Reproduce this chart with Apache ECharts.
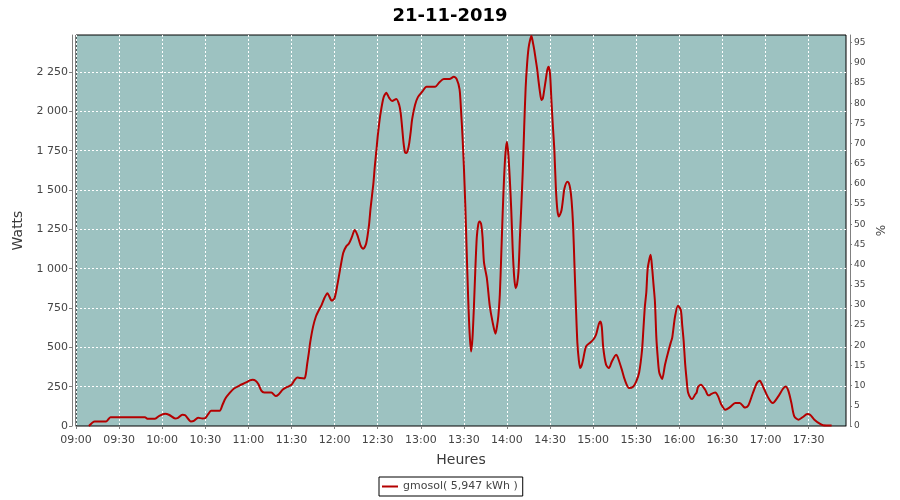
<!DOCTYPE html>
<html>
<head>
<meta charset="utf-8">
<script src="https://cdn.jsdelivr.net/npm/echarts@6/dist/echarts.min.js"></script>
<style>html,body{margin:0;padding:0;background:#fff}#c{width:900px;height:500px}</style>
</head>
<body>
<div id="c"></div>
<script>
const times = ["09:09","09:13","09:21","09:24","09:48","09:50","09:55","09:58","10:02","10:05","10:09","10:11","10:14","10:16","10:20","10:22","10:25","10:28","10:30","10:32","10:34","10:40","10:42","10:44","10:47","10:50","10:54","10:58","11:01","11:03","11:05","11:07","11:09","11:11","11:16","11:19","11:21","11:24","11:27","11:30","11:32","11:34","11:36","11:39","11:40","11:41","11:42","11:43","11:45","11:47","11:49","11:51","11:53","11:55","11:56","11:58","12:00","12:02","12:04","12:06","12:08","12:10","12:12","12:14","12:16","12:18","12:20","12:22","12:24","12:25","12:26","12:27","12:28","12:29","12:30","12:31","12:32","12:34","12:36","12:38","12:40","12:43","12:45","12:46","12:47","12:48","12:49","12:50","12:51","12:52","12:53","12:54","12:56","12:58","13:01","13:04","13:10","13:13","13:16","13:20","13:23","13:25","13:27","13:28","13:29","13:30","13:31","13:32","13:33","13:34","13:35","13:36","13:37","13:38","13:39","13:40","13:41","13:42","13:43","13:44","13:46","13:48","13:50","13:52","13:53","13:54","13:55","13:56","13:57","13:58","13:59","14:00","14:01","14:02","14:03","14:04","14:05","14:06","14:07","14:08","14:09","14:10","14:11","14:12","14:13","14:14","14:15","14:16","14:17","14:18","14:19","14:20","14:21","14:22","14:23","14:24","14:25","14:26","14:27","14:28","14:29","14:30","14:31","14:32","14:33","14:34","14:35","14:36","14:37","14:38","14:39","14:40","14:42","14:43","14:44","14:45","14:46","14:47","14:48","14:49","14:50","14:51","14:52","14:53","14:55","14:58","15:00","15:02","15:04","15:05","15:06","15:07","15:09","15:11","15:13","15:16","15:17","15:20","15:22","15:25","15:28","15:30","15:32","15:34","15:35","15:36","15:37","15:38","15:40","15:41","15:42","15:43","15:44","15:45","15:46","15:48","15:50","15:52","15:54","15:55","15:57","15:59","16:01","16:02","16:03","16:04","16:05","16:06","16:08","16:09","16:11","16:12","16:13","16:15","16:18","16:20","16:21","16:22","16:25","16:27","16:29","16:32","16:35","16:39","16:42","16:45","16:46","16:48","16:51","16:54","16:56","16:58","17:02","17:05","17:09","17:12","17:14","17:16","17:18","17:20","17:23","17:26","17:29","17:31","17:34","17:38","17:40","17:46"];
const watts = [0,29,29,55,55,46,46,65,78,70,48,52,72,68,29,32,52,48,50,75,97,97,135,175,210,238,258,275,290,294,288,265,225,213,213,190,200,232,248,262,290,309,305,302,330,400,460,530,630,696,735,770,815,844,830,797,813,900,1003,1100,1140,1160,1200,1246,1210,1150,1126,1160,1280,1380,1460,1540,1650,1740,1839,1920,1987,2085,2118,2085,2065,2078,2040,1990,1900,1800,1740,1735,1754,1800,1870,1950,2040,2090,2125,2156,2156,2185,2205,2205,2220,2205,2140,2010,1850,1650,1400,1100,810,590,474,560,760,1000,1200,1280,1299,1285,1200,1040,940,765,660,586,630,700,830,1080,1350,1580,1740,1807,1720,1564,1370,1120,950,876,900,980,1200,1400,1620,1902,2150,2300,2400,2450,2478,2440,2390,2330,2270,2190,2120,2072,2083,2140,2199,2260,2283,2235,2060,1900,1750,1520,1380,1331,1345,1373,1440,1510,1553,1545,1510,1430,1280,1020,759,530,420,368,385,421,505,531,548,580,650,664,630,500,389,368,410,453,440,357,294,241,251,283,340,480,620,760,850,1003,1088,1010,900,790,560,430,340,298,389,463,530,560,696,764,738,640,540,400,300,215,175,172,200,212,248,262,230,195,195,203,213,188,140,103,118,146,146,120,118,130,205,273,288,255,178,146,190,235,251,220,146,61,40,57,76,72,40,13,5,3];
const xTickLabels = ["09:00","09:30","10:00","10:30","11:00","11:30","12:00","12:30","13:00","13:30","14:00","14:30","15:00","15:30","16:00","16:30","17:00","17:30"];
const wattTicks = [0,250,500,750,1000,1250,1500,1750,2000,2250];
const pctTicks = [0,5,10,15,20,25,30,35,40,45,50,55,60,65,70,75,80,85,90,95];

const toMin = s => { const p = s.split(':'); return +p[0]*60 + +p[1]; };
const fmtTime = v => { const h = Math.floor(v/60), m = Math.round(v%60); return (h<10?'0':'')+h+':'+(m<10?'0':'')+m; };
const fmtW = v => { const s = String(Math.round(v)); return s.length > 3 ? s.slice(0, s.length-3) + ' ' + s.slice(-3) : s; };

const txt = '#444444';
const font = 'DejaVu Sans';
const axisLineStyle = { color: '#808080', width: 1 };
const split = { show: true, lineStyle: { color: '#ffffff', type: [2, 2], width: 1 } };

const chart = echarts.init(document.getElementById('c'), null, { renderer: 'canvas' });
chart.setOption({
  animation: false,
  backgroundColor: '#ffffff',
  title: { text: '21-11-2019', left: 'center', top: 2, textStyle: { fontFamily: font, fontSize: 18, fontWeight: 'bold', color: '#000' } },
  grid: { left: 76, right: 54, top: 35, bottom: 74, show: true, backgroundColor: '#9dc2c1', borderColor: '#000000', borderWidth: 1 },
  legend: {
    left: 379, top: 477, padding: [4, 5, 4, 3], borderColor: '#000', borderWidth: 1,
    icon: 'rect', itemWidth: 16, itemHeight: 2, itemGap: 4,
    textStyle: { fontFamily: font, fontSize: 11, color: txt },
    data: ['gmosol( 5,947 kWh )']
  },
  xAxis: {
    type: 'value', min: 540, max: 1076, interval: 30, offset: 4,
    name: 'Heures', nameLocation: 'middle', nameGap: 23,
    nameTextStyle: { fontFamily: font, fontSize: 14, color: '#3a3a3a' },
    axisLine: { show: true, lineStyle: axisLineStyle },
    axisTick: { show: true, length: 3, lineStyle: axisLineStyle, customValues: xTickLabels.map(toMin) },
    axisLabel: { fontFamily: font, fontSize: 11, color: txt, margin: 5, customValues: xTickLabels.map(toMin), formatter: fmtTime },
    splitLine: split
  },
  yAxis: [{
    type: 'value', min: 0, max: 2485, interval: 250, offset: 4, position: 'left',
    name: 'Watts', nameLocation: 'middle', nameGap: 45,
    nameTextStyle: { fontFamily: font, fontSize: 14, color: '#3a3a3a' },
    axisLine: { show: true, lineStyle: axisLineStyle },
    axisTick: { show: true, length: 3, lineStyle: axisLineStyle, customValues: wattTicks },
    axisLabel: { fontFamily: font, fontSize: 11, color: txt, margin: 4, customValues: wattTicks, formatter: fmtW },
    splitLine: split
  }, {
    type: 'value', min: 0, max: 96.9, interval: 5, offset: 4, position: 'right',
    name: '%', nameLocation: 'middle', nameGap: 22,
    nameTextStyle: { fontFamily: font, fontSize: 12, color: txt },
    axisLine: { show: true, lineStyle: axisLineStyle },
    axisTick: { show: true, length: 2, lineStyle: axisLineStyle, customValues: pctTicks },
    axisLabel: { fontFamily: font, fontSize: 9, color: txt, margin: 4, customValues: pctTicks },
    splitLine: { show: false }
  }],
  series: [{
    name: 'gmosol( 5,947 kWh )', type: 'line', yAxisIndex: 0,
    showSymbol: false, symbol: 'none', smooth: 0.25,
    lineStyle: { color: '#b40000', width: 2 }, itemStyle: { color: '#b40000' },
    data: times.map((t, i) => [toMin(t), watts[i]])
  }]
});
</script>
</body>
</html>
